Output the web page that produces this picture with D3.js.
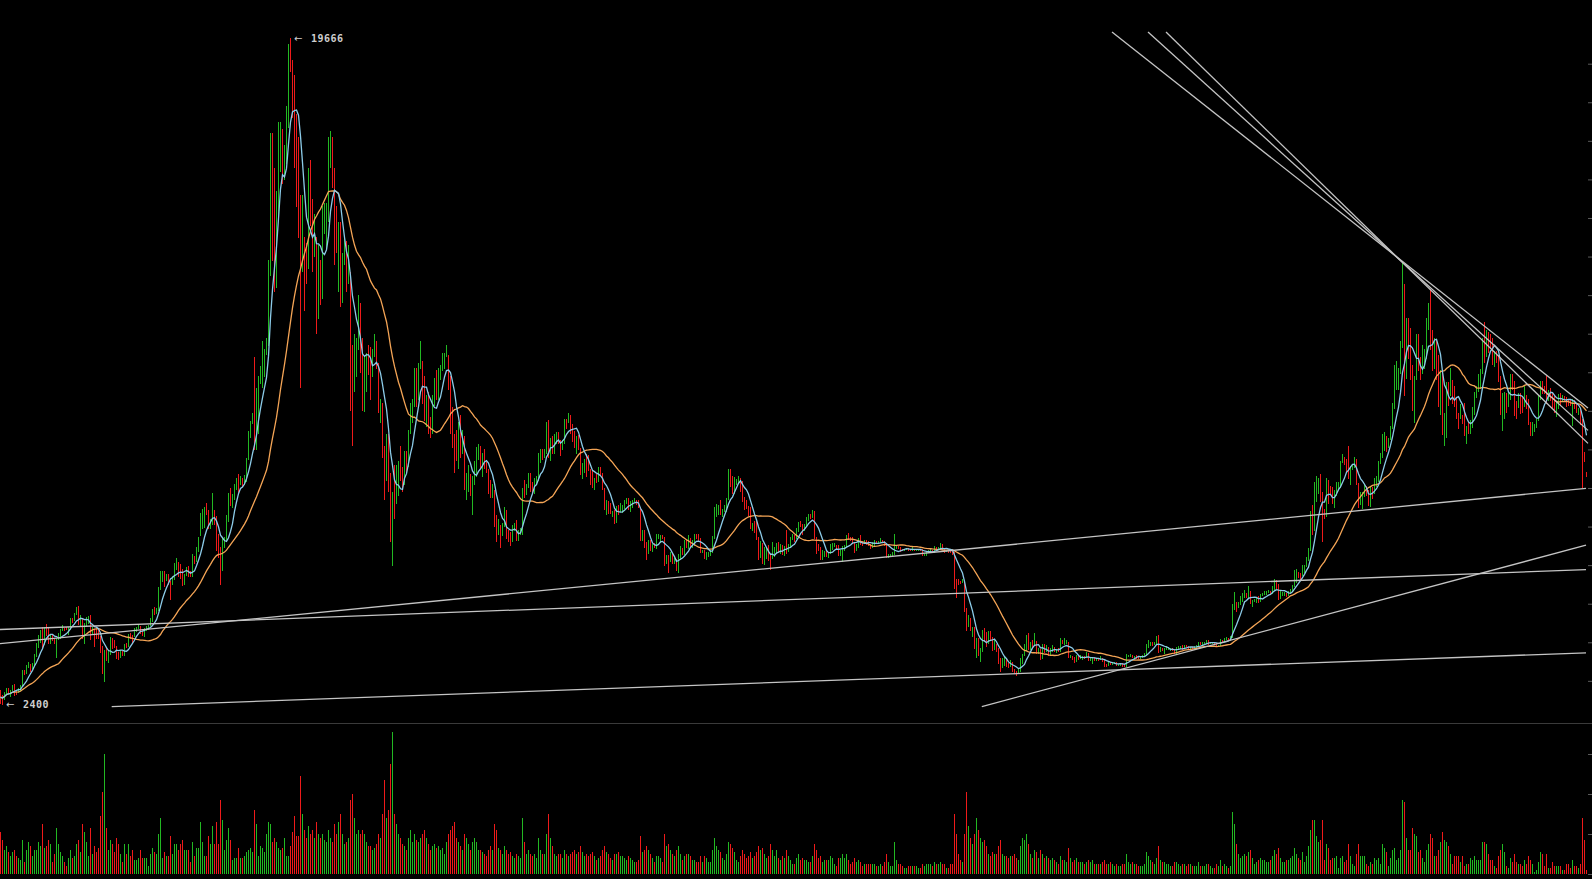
<!DOCTYPE html>
<html><head><meta charset="utf-8">
<script src="https://cdn.jsdelivr.net/npm/d3@7"></script>
<style>html,body{margin:0;padding:0;background:#000;overflow:hidden}</style>
</head><body>
<svg id="chart" width="1592" height="879"></svg>
<script>
// ---- data: daily candles starting 2017-07-25 ----
const startDate = "2017-07-25";
const firstOpen = 2757;
const closes = [
2576,2529,2671,2797,2730,2757,2875,
2718,2710,2800,2870,3250,3220,3390,3420,3340,3420,3650,3880,4060,4320,4160,4380,4280,4100,4140,4060,4000,4080,4130,4320,4360,4350,4340,4380,4590,4580,4740,
4900,4560,4610,4300,4430,4620,4630,4320,4330,4220,4190,4150,3860,3240,3690,3680,3690,4100,3910,3890,3620,3600,3780,3670,3930,3880,4200,4180,4160,4340,
4400,4400,4310,4220,4320,4370,4440,4610,4780,4760,4820,5420,5640,5820,5690,5750,5590,5570,5690,5990,6020,5980,5900,5520,5740,5890,5770,5750,6150,6130,6450,
6740,7030,7180,7380,7370,6980,7110,7450,7140,6580,6330,5850,6510,6600,7280,7830,7700,7780,8040,8230,8100,8240,8100,8230,8740,9290,9730,9900,9800,9920,
10860,10900,11250,11600,11700,13700,16850,16050,14800,15000,16750,17100,16300,16450,17600,19200,19000,18600,17350,16400,15500,13800,14400,13900,13800,15900,15400,14300,14450,12600,13850,
13400,14750,15000,15150,16950,17100,16200,14900,14400,14800,13200,13800,14200,13600,13600,11300,11100,11200,11600,12800,11550,10800,10850,11400,11150,11050,11400,11750,11200,10100,10200,
9100,8800,9200,8200,6900,7700,7600,8250,8650,8550,8100,8900,8550,9480,10000,10150,11050,10400,11150,11250,10450,9850,10150,9650,9600,10300,10600,10350,
10950,11050,11450,11450,11450,10700,9900,9300,9230,8780,9550,9150,9150,8200,8250,8280,7870,8200,8600,8900,8900,8700,8900,8530,8450,8140,7790,7940,7100,6850,6930,
6810,7050,7400,6790,6780,6610,6900,7020,6770,6830,6930,7900,7880,8000,8350,8050,7900,8170,8270,8850,8920,8800,8930,9650,8860,9280,8930,9350,9400,9240,
9080,9220,9750,9700,9850,9650,9380,9200,9320,9030,8450,8500,8700,8680,8480,8330,8050,8230,8220,8520,8400,7990,7500,7580,7470,7350,7350,7110,7450,7390,7490,
7530,7640,7710,7490,7620,7650,7680,7620,7500,6770,6880,6550,6300,6630,6400,6500,6460,6720,6750,6760,6720,6050,6170,6150,6250,6080,6120,5870,6200,6400,
6360,6620,6510,6590,6530,6600,6760,6710,6670,6360,6400,6230,6240,6280,6350,6720,7330,7360,7470,7330,7400,7400,7720,8400,8170,7930,8200,8210,8220,8180,7740,
7600,7530,7420,7010,7030,6940,6720,6280,6540,6150,6240,6320,6260,6190,6280,6320,6580,6400,6490,6270,6480,6360,6530,6690,6740,6710,6920,7090,7040,6990,7030,
7190,7280,7270,7370,6720,6480,6410,6200,6260,6310,6280,6320,6490,6500,6530,6500,6250,6340,6390,6490,6760,6710,6700,6590,6430,6460,6670,6620,6590,6610,
6580,6540,6490,6550,6610,6580,6600,6650,6630,6560,6250,6280,6280,6290,6450,6460,6450,6400,6390,6410,6420,6410,6400,6420,6400,6400,6410,6400,6270,6270,6330,
6380,6400,6370,6480,6410,6440,6530,6420,6360,6390,6380,6360,6320,5600,5570,5560,5550,5610,4830,4470,4600,4320,4320,3900,4000,3770,3780,4250,4220,4000,
4200,4140,3830,3950,3760,3500,3410,3420,3550,3420,3380,3480,3270,3220,3210,3240,3550,3690,3800,4150,3860,3970,3960,4030,3770,3810,3590,3880,3770,3880,3690,
3820,3880,3780,3800,3790,4040,3990,4000,4010,3640,3640,3610,3510,3660,3580,3610,3640,3600,3700,3540,3540,3580,3560,3580,3570,3570,3550,3430,3400,3450,3440,
3460,3490,3420,3420,3440,3400,3390,3650,3650,3680,3620,3630,3610,3590,3610,3640,3680,3900,3940,3990,3940,3980,4150,3750,3830,3810,3820,3820,
3830,3830,3800,3720,3860,3870,3880,3850,3920,3900,3860,3870,3860,3860,3900,4000,3970,3970,4000,4030,3970,3990,4000,3980,3920,3930,4060,4040,4100,4110,4100,
4130,4900,4960,4900,5020,5050,5200,5280,5180,5330,5040,5070,5080,5160,5050,5220,5240,5280,5290,5320,5280,5390,5540,5440,5190,5260,5270,5270,5220,5320,
5360,5460,5780,5800,5760,5730,5830,5970,6170,6370,7250,6980,7800,7970,8200,7880,7350,7260,8200,7990,7950,7620,7880,8000,8060,8700,8800,8730,8660,8280,8550,
8560,8740,8110,7680,7790,7800,8000,7930,7630,8010,7900,8170,8230,8680,8860,8980,9330,9080,9270,9530,10200,10700,10850,11000,11750,12900,11150,12350,11850,10800,
10600,10800,11980,11150,10980,11250,11480,12300,12580,12100,11350,11800,11370,10200,10850,9420,9670,10640,10530,10750,10590,10330,9900,9830,9880,9850,9480,9530,9520,9600,10080,
10400,10530,10820,10970,11800,11450,11980,11970,11850,11280,11550,11380,10870,10020,10300,10340,10220,10320,10920,10760,10130,10110,10400,10150,10140,10370,10160,9720,9480,9590,9600,
9760,10380,10620,10580,10570,10330,10480,10410,10320,10100,10160,10420,10360,10360,10310,10260,10190,10160,10270,10170,9980,10030,9690,8700,8690,8300
];
const highs = [
2768,2626,2700,2810,2805,2770,2900,
2920,2760,2810,2880,3290,3290,3420,3480,3430,3450,3700,3970,4200,4330,4400,4400,4480,4370,4180,4190,4100,4100,4250,4350,4460,4380,4400,4390,4630,4640,4750,
4920,4950,4700,4620,4500,4660,4680,4700,4400,4340,4390,4380,4150,3900,3800,3850,3800,4130,4120,4050,3900,3760,3810,3780,3950,3980,4220,4250,4200,4360,
4400,4470,4430,4340,4360,4420,4460,4620,4870,4920,4880,5430,5860,5840,5850,5780,5760,5600,5730,6060,6190,6070,6040,5900,5780,5950,5990,5850,6300,6240,6470,
6740,7340,7450,7500,7600,7420,7200,7880,7440,7280,6820,6480,6720,6720,7310,7880,8000,7850,8100,8250,8370,8300,8260,8340,8770,9470,9730,9950,11400,10600,
10900,11150,11800,11600,11900,13900,17200,17200,16300,15700,17500,17500,17300,16900,17900,19500,19666,19100,18700,17700,17100,15600,15600,14500,14350,16300,16500,15500,15100,14500,14300,
13900,15300,15400,15400,17100,17250,17100,16300,15300,14900,14900,14100,14500,14400,14300,13600,11700,12000,11900,13000,12800,11900,11400,11500,11700,11650,11600,12000,11800,11250,10300,
10200,9100,9400,9400,8400,7900,8600,8600,8700,9100,8550,8950,8950,9500,10200,10300,11100,11100,11250,11800,11300,10900,10400,10500,9850,10400,10850,11050,
11100,11200,11500,11500,11700,11450,10900,10100,9400,9500,9700,9900,9500,9350,8400,8600,8350,8300,8700,9050,9150,9100,8900,9000,8700,8500,8200,8100,7950,7300,7200,
7050,7100,7500,7430,6900,6850,7050,7100,7180,6900,6970,8000,8200,8100,8400,8400,8150,8250,8300,8900,9000,9000,9000,9700,9750,9300,9350,9400,9450,9450,
9250,9250,9800,9800,9950,9900,9650,9480,9350,9380,9030,8650,8750,8880,8850,8480,8450,8250,8350,8550,8550,8400,8000,7700,7650,7600,7400,7440,7530,7550,7600,
7550,7700,7750,7750,7650,7700,7750,7700,7700,7500,6900,6900,6600,6650,6650,6550,6570,6800,6820,6780,6790,6720,6250,6250,6350,6280,6180,6150,6300,6500,
6450,6650,6680,6780,6700,6640,6800,6800,6800,6700,6400,6400,6350,6330,6400,6750,7500,7580,7550,7680,7450,7570,7750,8480,8480,8300,8280,8230,8300,8250,8180,
7760,7700,7540,7500,7100,7150,7150,6720,6620,6580,6480,6450,6520,6270,6600,6480,6580,6600,6550,6530,6500,6900,6560,6720,6800,6790,6950,7130,7140,7060,7070,
7260,7330,7320,7420,7400,6730,6550,6470,6400,6370,6400,6340,6540,6580,6580,6530,6530,6400,6500,6520,6780,6830,6740,6720,6590,6540,6700,6780,6620,6640,
6660,6620,6560,6600,6640,6620,6620,6710,6660,6630,6560,6300,6300,6330,6800,6500,6490,6480,6430,6420,6450,6440,6410,6460,6420,6430,6430,6420,6420,6300,6340,
6400,6420,6400,6500,6480,6460,6580,6540,6430,6400,6400,6400,6370,6330,5650,5650,5580,5650,5600,4900,4700,4640,4400,4400,4100,4100,3850,4330,4370,4270,
4300,4300,4140,4050,3950,3850,3580,3600,3620,3600,3450,3530,3490,3300,3250,3300,3580,3700,3950,4200,4230,4000,4060,4230,4040,3850,3830,3960,3950,3920,3880,
3850,3920,3880,3830,3850,4100,4070,4100,4050,4020,3680,3650,3620,3680,3680,3670,3650,3650,3750,3720,3580,3620,3610,3600,3590,3650,3580,3550,3440,3480,3480,
3480,3500,3500,3440,3450,3460,3420,3700,3680,3700,3680,3650,3660,3630,3650,3680,3720,3950,4050,4000,4010,4000,4170,4200,3880,3840,3840,3900,
3870,3840,3840,3820,3880,3900,3900,3920,3940,3930,3910,3890,3880,3900,3920,4020,4000,4020,4020,4050,4060,4000,4010,4000,3990,3940,4080,4070,4120,4140,4110,
4150,5000,5300,5050,5050,5200,5270,5350,5290,5460,5330,5100,5120,5180,5190,5240,5290,5320,5320,5350,5340,5460,5630,5620,5520,5320,5300,5300,5290,5340,
5380,5480,5880,5900,5830,5800,6000,6000,6200,6450,7400,7550,8150,8300,8250,8350,7900,7450,8250,8200,8050,8020,7950,8150,8150,8700,8880,8800,8750,9090,8580,
8630,8800,8760,8120,7900,7900,8100,8050,7950,8040,8030,8250,8300,8700,8900,9400,9450,9360,9300,9600,10200,11200,11300,11100,11800,13880,13300,12400,12400,12150,
11200,10900,12000,12000,11400,11700,11600,12400,12800,13150,12100,11900,11850,11450,11050,11000,9950,10750,10750,11100,10800,10650,10330,9950,10180,9900,10200,9600,9720,9750,10100,
10500,10650,10950,11080,11900,12300,12100,12050,12000,11900,11550,11550,11450,10900,10450,10500,10450,10500,10950,10950,10770,10250,10450,10450,10350,10650,10400,10300,9720,9700,9670,
9800,10400,10780,10780,10650,10900,10550,10590,10480,10390,10250,10440,10450,10420,10380,10370,10280,10280,10300,10270,10200,10080,10050,9800,8930,8420
];
const lows = [
2420,2400,2510,2660,2690,2600,2750,
2620,2650,2700,2760,2860,3170,3200,3340,3250,3320,3410,3620,3860,3990,3850,3950,4180,3960,3960,4050,3980,3600,4080,4100,4300,4300,4320,4200,4330,4510,4560,
4730,4450,4420,4100,3980,4420,4480,4080,4200,3900,4110,4090,3740,3200,2980,3530,3480,3690,3840,3860,3580,3560,3600,3650,3670,3860,3880,4110,4000,4160,
4290,4360,4220,4180,4160,4310,4320,4430,4550,4730,4740,4820,5380,5570,5450,5600,5500,5110,5510,5640,5880,5710,5650,5470,5510,5720,5710,5700,5700,6030,6100,
6360,6770,6960,6980,7320,6950,6960,7050,7050,6390,6190,5500,5850,6450,6600,7120,7550,7500,7700,7960,7820,8090,8050,8100,8180,8750,9300,9680,9000,9000,
9400,10700,10600,10900,11450,11700,13500,13900,13100,13200,15000,16200,15900,16000,16400,17350,18800,17600,16300,15300,14500,10600,13600,12600,13300,13700,14800,13600,14000,12000,12400,
12750,12900,14600,14200,14900,16300,15800,13800,14100,13100,12700,12800,13800,13100,13300,10000,9100,10500,10900,11600,11000,10000,9980,10500,10950,10300,10900,11400,11100,9950,9700,
8800,7700,8200,7900,6600,6000,7200,7600,7800,8200,7900,8100,8400,8550,9400,9700,10100,10100,10300,11100,10200,9750,9600,9400,9300,9400,10150,10300,
10300,10800,11050,11100,11400,10550,9400,9050,8400,8700,8500,8800,8900,7950,7700,7900,7800,7300,8100,8300,8750,8500,8300,8500,8400,7850,7750,7750,7000,6600,6800,
6450,6770,7000,6700,6600,6500,6600,6900,6630,6650,6800,6800,7750,7820,8000,7900,7850,7870,8080,8200,8650,8750,8780,8900,8800,8700,8900,8900,9150,9150,
8850,9000,9150,9550,9700,9400,9200,9050,8900,9000,8350,8250,8400,8300,8450,8100,8000,7950,8150,8180,8350,7950,7450,7300,7330,7330,7250,7080,7100,7300,7380,
7360,7480,7600,7450,7400,7500,7640,7570,7500,6650,6650,6450,6150,6300,6380,6360,6450,6420,6680,6580,6700,6000,6050,5800,6100,6050,6050,5850,5800,6150,
6270,6270,6460,6430,6460,6450,6500,6700,6650,6330,6320,6180,6150,6230,6260,6340,6700,7250,7300,7300,7250,7380,7400,7700,8050,7850,7850,8080,8120,7900,7650,
7450,7480,7280,6950,6900,6850,6670,6150,6200,6040,6020,6160,6130,5880,6180,6220,6300,6330,6300,6270,6260,6300,6350,6470,6670,6610,6680,6880,6990,6800,6910,
7020,7150,7220,7230,6700,6300,6380,6150,6150,6230,6220,6200,6310,6400,6480,6420,6250,6240,6100,6370,6480,6660,6650,6570,6330,6390,6450,6540,6520,6550,
6530,6510,6430,6470,6520,6560,6550,6590,6600,6510,6200,6200,6250,6260,6280,6420,6420,6360,6370,6380,6400,6380,6370,6390,6380,6380,6390,6390,6250,6250,6260,
6320,6370,6350,6340,6390,6400,6440,6400,6330,6350,6330,6330,6280,5400,5150,5500,5520,5540,4800,4300,4420,4300,4150,3850,3600,3650,3500,3760,4030,3880,
3970,4080,3780,3800,3750,3450,3250,3350,3400,3380,3340,3360,3250,3190,3150,3200,3230,3450,3670,3790,3810,3800,3900,3950,3700,3700,3560,3570,3740,3750,3650,
3660,3770,3750,3740,3770,3760,3980,3950,3980,3600,3600,3560,3480,3500,3560,3580,3560,3580,3600,3530,3520,3440,3540,3540,3540,3560,3500,3380,3380,3390,3430,
3420,3440,3400,3400,3410,3380,3380,3380,3630,3620,3600,3590,3590,3570,3590,3600,3630,3670,3860,3910,3920,3930,3960,3730,3750,3780,3700,3800,
3810,3790,3780,3700,3710,3840,3850,3820,3840,3880,3840,3830,3840,3820,3860,3900,3950,3950,3960,3980,3950,3970,3980,3960,3900,3900,3920,4020,4030,4060,4080,
4080,4130,4850,4800,4890,4980,5050,5150,5150,5170,5000,4930,5050,5040,5040,5050,5200,5240,5230,5280,5230,5260,5380,5400,5100,5140,5220,5220,5180,5220,
5300,5350,5450,5550,5690,5600,5730,5800,5970,6120,6370,6800,6900,7650,7860,7650,6600,7200,7250,7600,7820,7600,7500,7800,7960,8000,8650,8600,8430,8250,8100,
8480,8540,8100,7500,7580,7480,7770,7800,7540,7530,7720,7850,8030,8170,8630,8800,8960,8950,9040,9250,9530,10050,10550,10550,10980,11650,10400,10850,11350,10800,
10000,9700,10800,11050,10800,10980,11100,11350,12100,11600,11050,11100,10800,10100,9900,9380,9100,9300,10150,10400,10200,10100,9800,9550,9800,9660,9350,9150,9400,9420,9580,
9900,10340,10500,10580,10970,11250,11400,11520,11650,11200,11150,11250,10750,9900,9500,9800,9950,10100,10300,10550,9880,9800,10080,9920,9950,10120,10050,9650,9350,9370,9460,
9560,9750,10300,10450,10450,10180,10280,10280,10080,9950,9850,10050,10150,10250,10280,10100,10150,10130,9630,10060,9950,9900,9650,8000,8680,8290
];
// volume, thousands of BTC
const volumes = [
21,17,12,14,11,9,11,
12,9,8,7,17,6,12,16,14,9,12,12,16,14,25,13,14,17,15,6,10,23,15,11,9,6,4,8,12,8,9,
15,17,11,25,21,16,9,23,10,14,11,13,29,41,60,23,12,17,15,11,18,15,10,6,15,10,15,9,12,7,
7,8,12,8,8,8,4,10,13,11,10,20,28,8,11,9,9,19,10,15,15,12,15,17,12,12,12,6,16,9,13,
13,26,16,9,9,19,15,24,15,26,15,37,27,12,17,23,17,7,8,8,13,8,8,9,11,12,13,11,32,25,
9,14,13,11,20,26,25,16,18,16,13,12,13,18,9,9,14,21,29,19,19,49,30,22,18,24,20,22,18,26,20,
18,20,17,16,22,18,16,25,20,26,30,20,15,16,18,37,40,28,20,22,20,22,20,16,14,14,12,13,15,20,18,
30,47,28,32,55,71,30,25,20,18,15,14,12,18,22,16,20,17,16,18,20,22,18,15,12,14,15,13,
14,12,13,10,16,20,22,24,26,18,16,14,12,20,18,15,12,16,18,16,12,12,11,10,9,12,14,12,25,22,13,
12,10,14,12,10,11,9,8,10,9,8,28,16,10,12,10,9,10,8,18,12,10,10,20,30,18,14,10,9,10,
10,8,12,10,9,10,11,12,10,11,14,11,9,10,9,10,11,9,7,8,9,12,14,11,10,8,7,10,10,11,9,
9,8,7,9,8,7,6,6,7,19,11,12,14,12,10,8,6,9,9,8,6,20,14,15,12,10,9,12,14,10,
7,9,10,10,9,7,7,6,6,9,6,9,8,6,6,12,18,14,12,11,8,7,10,16,15,13,11,7,6,9,12,
10,8,9,11,8,9,11,14,12,13,10,8,9,15,12,9,12,8,7,9,8,12,9,7,5,5,8,10,7,8,7,
7,6,6,9,15,12,8,9,6,7,7,7,9,8,5,4,8,8,10,8,10,7,5,6,8,6,7,6,4,5,
5,5,5,5,5,4,4,5,4,6,10,6,4,4,16,7,5,5,4,3,3,4,4,4,4,4,3,3,5,4,5,
5,5,4,6,5,5,6,5,5,3,3,5,5,30,20,10,7,6,20,41,24,18,15,20,28,22,18,16,17,14,
10,9,11,10,10,14,17,10,9,9,8,9,9,10,8,7,14,18,17,20,15,10,8,12,11,8,12,10,8,9,8,
7,8,7,6,5,9,7,7,6,13,8,6,7,8,6,6,6,5,6,7,6,7,5,5,5,5,6,7,5,5,6,
5,4,5,4,4,5,5,10,6,5,6,5,5,4,4,4,5,11,9,7,6,5,8,14,7,6,6,5,
5,4,4,6,6,5,4,5,5,4,5,5,4,4,4,6,4,4,4,5,5,4,3,3,5,4,7,4,5,4,3,
4,31,25,15,10,8,9,10,9,11,12,8,5,6,7,8,7,7,6,6,7,9,12,10,13,8,6,6,7,7,
8,9,13,10,8,7,11,6,9,14,22,27,27,19,16,17,27,7,15,13,7,8,8,9,3,8,9,6,7,15,9,
5,4,10,15,9,9,9,5,4,6,5,8,7,8,5,15,13,11,4,8,12,13,7,8,12,37,36,18,12,12,
23,20,19,11,12,8,6,12,15,20,18,9,9,12,16,21,17,16,14,10,5,9,9,9,6,9,4,5,5,8,7,
9,7,7,7,16,16,15,10,7,7,4,3,9,12,15,11,4,3,8,6,10,6,5,5,4,7,5,9,7,5,1,
2,6,11,10,4,10,3,3,6,4,4,4,4,2,2,5,5,3,7,4,4,3,5,28,17,2
];
const maShort = 7, maLong = 30;
const priceTicks = d3.range(3000, 19001, 1000);
const volumeTicks = [0, 20, 40, 60];
// trend lines: [dayIndex, price] endpoints
const trendLines = [
  [[-0.25, 3963], [792.75, 7990]],
  [[-0.25, 4332], [792.75, 5885]],
  [[55.6, 2333], [792.75, 3727]],
  [[490.65, 2333], [792.75, 6517]],
  [[555.75, 19823], [793.75, 10074]],
  [[573.75, 19823], [793.75, 9494]],
  [[582.75, 19823], [793.75, 9157]]
];

// ---- drawing ----
const W = 1592, H = 879;
const n = Math.min(closes.length, highs.length, lows.length, volumes.length);
const t0 = new Date(startDate + "T00:00:00");
const days = d3.range(n).map(i => ({
  i, date: d3.timeDay.offset(t0, i),
  o: i === 0 ? firstOpen : closes[i-1], c: closes[i], h: highs[i], l: lows[i], v: volumes[i]
}));
const UP = "#22b822", DOWN = "#ee1a1a";
const col = d => d.c >= d.o ? UP : DOWN;

const svg = d3.select("#chart");
svg.append("rect").attr("width", W).attr("height", H).attr("fill", "#000");

const x = d3.scaleLinear().domain([-0.25, n + 1.75]).range([0, W]);
const y = d3.scaleLinear().domain([d3.min(days, d => d.l), d3.max(days, d => d.h)]).range([704, 38]);
const yv = d3.scaleLinear().domain([0, 80]).range([874, 714]);

// volume bars
svg.append("g").attr("shape-rendering", "crispEdges").selectAll("rect").data(days).join("rect")
  .attr("x", d => x(d.i) - 0.5).attr("width", 1)
  .attr("y", d => yv(d.v)).attr("height", d => yv(0) - yv(d.v))
  .attr("fill", col);

// panel separator
svg.append("line").attr("x1", 0).attr("x2", W).attr("y1", 723.5).attr("y2", 723.5)
  .attr("stroke", "#3a3a3a").attr("stroke-width", 1);

// candles (high-low lines)
svg.append("g").attr("shape-rendering", "crispEdges").selectAll("line").data(days).join("line")
  .attr("x1", d => x(d.i)).attr("x2", d => x(d.i))
  .attr("y1", d => y(d.h)).attr("y2", d => y(d.l) + 0.5)
  .attr("stroke", col).attr("stroke-width", 1);

// moving averages
function sma(p) {
  return days.map((d, i) => {
    const s = Math.max(0, i - p + 1);
    return {i, v: d3.mean(closes.slice(s, i + 1))};
  });
}
const line = d3.line().x(d => x(d.i)).y(d => y(d.v));
svg.append("path").datum(sma(maLong)).attr("d", line)
  .attr("fill", "none").attr("stroke", "#f5a556").attr("stroke-width", 1.3);
svg.append("path").datum(sma(maShort)).attr("d", line)
  .attr("fill", "none").attr("stroke", "#8ccbe8").attr("stroke-width", 1.3);

// trend lines
svg.append("g").selectAll("line").data(trendLines).join("line")
  .attr("x1", d => x(d[0][0])).attr("y1", d => y(d[0][1]))
  .attr("x2", d => x(d[1][0])).attr("y2", d => y(d[1][1]))
  .attr("stroke", "#c4c4c4").attr("stroke-width", 1.3);

// right-edge tick marks
const pAxis = d3.axisLeft(y).tickValues(priceTicks).tickSize(4).tickFormat("");
const gp = svg.append("g").attr("transform", `translate(${W},0)`).call(pAxis);
const vAxis = d3.axisLeft(yv).tickValues(volumeTicks).tickSize(4).tickFormat("");
const gv = svg.append("g").attr("transform", `translate(${W},0)`).call(vAxis);
[gp, gv].forEach(g => { g.select(".domain").remove(); g.selectAll("line").attr("stroke", "#5a5a5a"); });

// max / min labels
const maxD = days.reduce((a, b) => b.h > a.h ? b : a);
const minD = days.reduce((a, b) => b.l < a.l ? b : a);
function label(d, val) {
  const g = svg.append("g").attr("fill", "#cfcfcf");
  g.append("text").attr("x", x(d.i) + 3.5).attr("y", y(val)).attr("dy", "0.35em")
    .attr("font-family", "DejaVu Sans").attr("font-size", 10).text("←");
  g.append("text").attr("x", x(d.i) + 20.5).attr("y", y(val)).attr("dy", "0.35em")
    .attr("font-family", "DejaVu Sans Mono").attr("font-weight", "bold").attr("font-size", 10)
    .attr("letter-spacing", 0.5).text(d3.format("d")(val));
}
label(maxD, maxD.h);
label(minD, minD.l);
</script>
</body></html>
